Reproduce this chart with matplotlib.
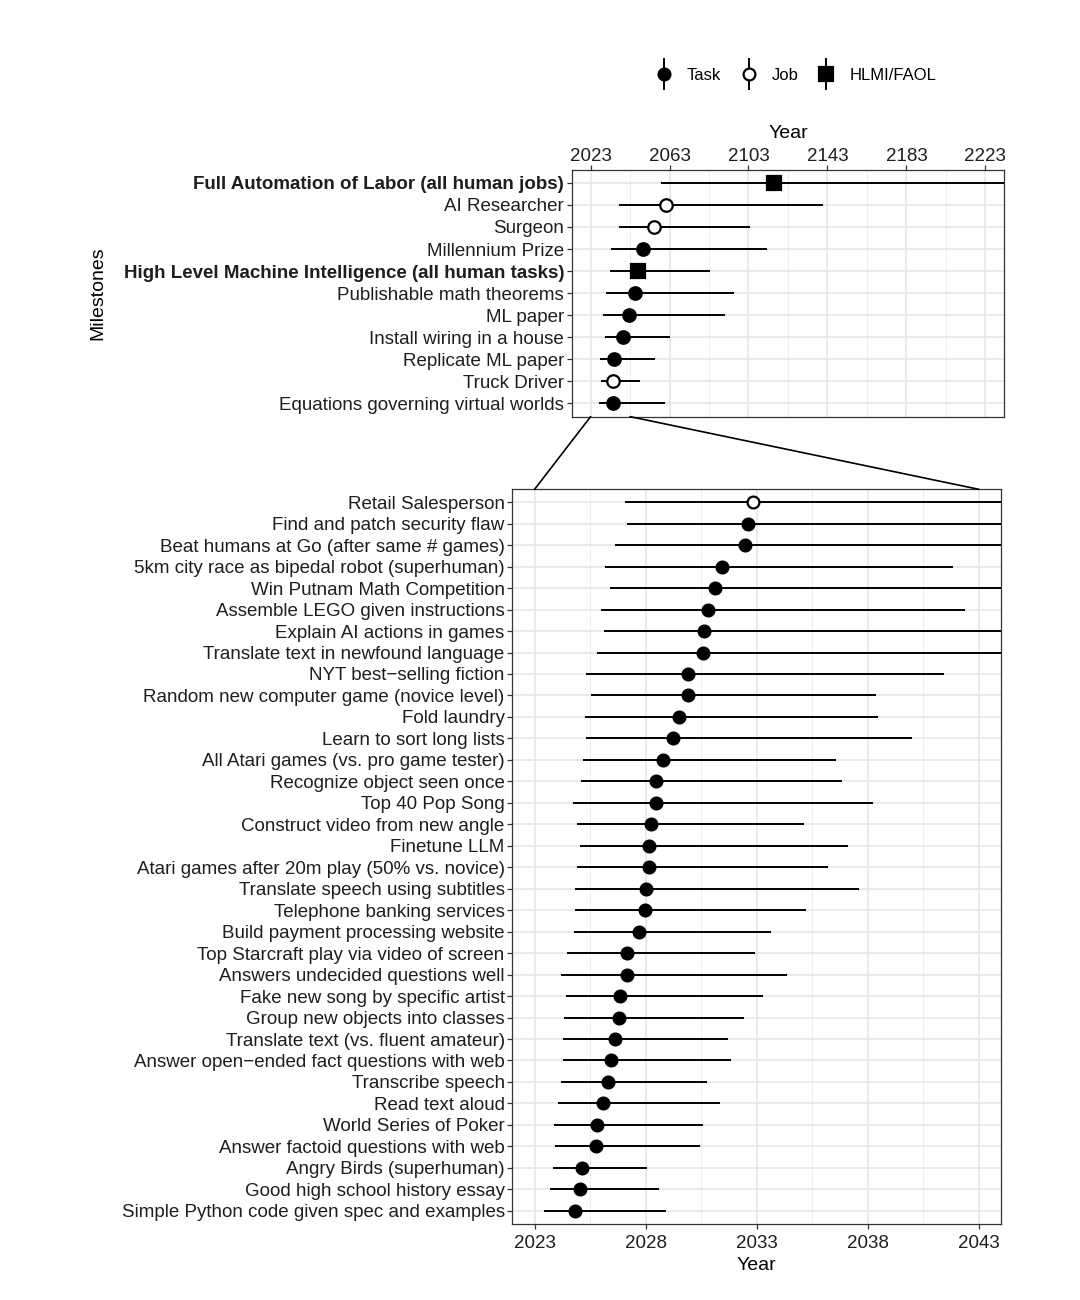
import matplotlib
matplotlib.use("Agg")
import matplotlib.pyplot as plt
from matplotlib.lines import Line2D
from matplotlib.legend_handler import HandlerBase
from matplotlib.patches import ConnectionPatch

plt.rcParams['font.family'] = ['Liberation Sans', 'DejaVu Sans']

# top panel: milestones (years), listed top to bottom
top_labels = ["Full Automation of Labor (all human jobs)", "AI Researcher", "Surgeon",
              "Millennium Prize", "High Level Machine Intelligence (all human tasks)",
              "Publishable math theorems", "ML paper", "Install wiring in a house",
              "Replicate ML paper", "Truck Driver", "Equations governing virtual worlds"]
top_mid = [2115.8, 2061.3, 2055.2, 2049.5, 2046.8, 2045.5, 2042.3, 2039.5, 2034.8, 2034.5, 2034.2]
top_lo = [2058.6, 2037.2, 2037.2, 2033.1, 2032.8, 2030.6, 2029.4, 2030.2, 2027.7, 2028.2, 2027.2]
top_hi = [2300.0, 2140.6, 2103.9, 2112.4, 2083.5, 2095.5, 2091.2, 2063.0, 2055.8, 2048.0, 2060.8]
top_kind = ["HLMI/FAOL", "Job", "Job", "Task", "HLMI/FAOL", "Task", "Task", "Task", "Task", "Job", "Task"]
top_bold = ["Full Automation of Labor (all human jobs)",
            "High Level Machine Intelligence (all human tasks)"]

# bottom panel: zoomed tasks
bot_labels = ["Retail Salesperson", "Find and patch security flaw", "Beat humans at Go (after same # games)",
              "5km city race as bipedal robot (superhuman)", "Win Putnam Math Competition",
              "Assemble LEGO given instructions", "Explain AI actions in games",
              "Translate text in newfound language", "NYT best\u2212selling fiction",
              "Random new computer game (novice level)", "Fold laundry", "Learn to sort long lists",
              "All Atari games (vs. pro game tester)", "Recognize object seen once", "Top 40 Pop Song",
              "Construct video from new angle", "Finetune LLM", "Atari games after 20m play (50% vs. novice)",
              "Translate speech using subtitles", "Telephone banking services", "Build payment processing website",
              "Top Starcraft play via video of screen", "Answers undecided questions well",
              "Fake new song by specific artist", "Group new objects into classes",
              "Translate text (vs. fluent amateur)", "Answer open\u2212ended fact questions with web",
              "Transcribe speech", "Read text aloud", "World Series of Poker", "Answer factoid questions with web",
              "Angry Birds (superhuman)", "Good high school history essay", "Simple Python code given spec and examples"]
bot_mid = [2032.85, 2032.63, 2032.46, 2031.44, 2031.12, 2030.82, 2030.61, 2030.57, 2029.9, 2029.9,
           2029.5, 2029.22, 2028.8, 2028.48, 2028.45, 2028.23, 2028.17, 2028.14, 2028.0, 2027.97,
           2027.68, 2027.17, 2027.14, 2026.83, 2026.8, 2026.62, 2026.42, 2026.32, 2026.06, 2025.81,
           2025.78, 2025.15, 2025.04, 2024.8]
bot_lo = [2027.05, 2027.14, 2026.6, 2026.18, 2026.39, 2025.97, 2026.12, 2025.79, 2025.33, 2025.52,
          2025.25, 2025.3, 2025.2, 2025.1, 2024.74, 2024.89, 2025.06, 2024.92, 2024.8, 2024.82,
          2024.77, 2024.45, 2024.2, 2024.43, 2024.32, 2024.27, 2024.26, 2024.2, 2024.07, 2023.87,
          2023.92, 2023.83, 2023.68, 2023.44]
bot_hi = [2055.0, 2052.0, 2050.0, 2041.84, 2048.0, 2042.37, 2047.0, 2049.0, 2041.44, 2038.37,
          2038.48, 2040.0, 2036.56, 2036.86, 2038.24, 2035.13, 2037.1, 2036.23, 2037.6, 2035.2,
          2033.64, 2032.94, 2034.38, 2033.3, 2032.41, 2031.72, 2031.83, 2030.75, 2031.36, 2030.6,
          2030.46, 2028.08, 2028.62, 2028.9]
bot_kind = ["Job"] + ["Task"] * 33

top_ticks = [2023, 2063, 2103, 2143, 2183, 2223]
bot_ticks = [2023, 2028, 2033, 2038, 2043]

kind_style = {"Task": dict(marker='o', mfc='black'),
              "Job": dict(marker='o', mfc='white'),
              "HLMI/FAOL": dict(marker='s', mfc='black')}

TXT = '#1e1e1e'
FS = 13.5


def style_axes(ax, n):
    ax.set_ylim(n - 0.4, -0.6)
    ax.set_facecolor('white')
    for s in ax.spines.values():
        s.set_color('#333333')
        s.set_linewidth(0.9)
    ax.grid(True, which='major', color='#e6e6e6', lw=1.2)
    ax.grid(True, which='minor', axis='x', color='#eeeeee', lw=0.7)
    ax.set_axisbelow(True)
    ax.tick_params(axis='both', which='major', colors='#333333', length=3.5, width=0.9,
                   labelcolor=TXT, labelsize=FS)
    ax.tick_params(axis='y', which='major', pad=2)
    ax.tick_params(axis='both', which='minor', length=0)


def draw_ranges(ax, labels, mid, lo, hi, kind, msize):
    for i in range(len(labels)):
        st = kind_style[kind[i]]
        ax.plot([lo[i], hi[i]], [i, i], color='black', lw=1.4, solid_capstyle='butt', zorder=3)
        ms = msize + (1 if st['marker'] == 's' else 0)
        ax.plot([mid[i]], [i], linestyle='none', marker=st['marker'], markersize=ms,
                markerfacecolor=st['mfc'], markeredgecolor='black', markeredgewidth=1.6, zorder=4)
    ax.set_yticks(range(len(labels)))
    ax.set_yticklabels(labels)


fig = plt.figure(figsize=(10.8, 13), dpi=100)

ax_top = fig.add_axes([0.5293, 0.6795, 0.4006, 0.19])
draw_ranges(ax_top, top_labels, top_mid, top_lo, top_hi, top_kind, 9)
ax_top.set_xlim(2013.4, 2232.6)
ax_top.set_xticks(top_ticks)
ax_top.set_xticks([t + 20 for t in top_ticks[:-1]], minor=True)
ax_top.xaxis.tick_top()
ax_top.xaxis.set_label_position('top')
ax_top.set_xlabel('Year', fontsize=FS + 0.5, color='black', labelpad=7)
style_axes(ax_top, len(top_labels))
ax_top.tick_params(axis='x', which='major', top=True, bottom=False, pad=0)
for lab in ax_top.get_yticklabels():
    if lab.get_text() in top_bold:
        lab.set_fontweight('bold')
ax_top.set_ylabel('Milestones', fontsize=FS + 0.5, color='black')
ax_top.yaxis.set_label_coords(-1.076, 0.5, transform=ax_top.transAxes)

ax_bot = fig.add_axes([0.4744, 0.0587, 0.4525, 0.5649])
draw_ranges(ax_bot, bot_labels, bot_mid, bot_lo, bot_hi, bot_kind, 8.5)
ax_bot.set_xticks(bot_ticks)
ax_bot.set_xticks([t + 2.5 for t in bot_ticks[:-1]] + [2020.5], minor=True)
ax_bot.set_xlim(2022.0, 2044.0)
ax_bot.set_xlabel('Year', fontsize=FS + 0.5, color='black', labelpad=3)
style_axes(ax_bot, len(bot_labels))
ax_bot.tick_params(axis='x', which='major', pad=5)

# zoom connectors
for yr in (2023, 2043):
    con = ConnectionPatch(xyA=(yr, 0), coordsA=ax_top.get_xaxis_transform(),
                          xyB=(yr, 1), coordsB=ax_bot.get_xaxis_transform(),
                          color='black', lw=1.2)
    fig.add_artist(con)


class VertKey(HandlerBase):
    def create_artists(self, legend, orig, xdescent, ydescent, width, height, fontsize, trans):
        cx = width / 2 - xdescent
        cy = height / 2 - ydescent
        seg = Line2D([cx, cx], [cy - 11, cy + 11], color='black', lw=1.4, transform=trans)
        mk = Line2D([cx], [cy], marker=orig.get_marker(), markersize=orig.get_markersize(),
                    markerfacecolor=orig.get_markerfacecolor(), markeredgecolor='black',
                    markeredgewidth=1.6, linestyle='none', transform=trans)
        return [seg, mk]


handles = [Line2D([], [], marker=kind_style[k]['marker'], markersize=8.5 if k != 'HLMI/FAOL' else 9.5,
                  markerfacecolor=kind_style[k]['mfc']) for k in ["Task", "Job", "HLMI/FAOL"]]
fig.legend(handles, ["Task", "Job", "HLMI/FAOL"], handler_map={Line2D: VertKey()},
           loc='center', bbox_to_anchor=(0.737, 0.942), ncol=3, frameon=False,
           fontsize=12, handlelength=1.0, handletextpad=0.9, columnspacing=1.15)

fig.savefig('out.png', dpi=100, facecolor='white')
